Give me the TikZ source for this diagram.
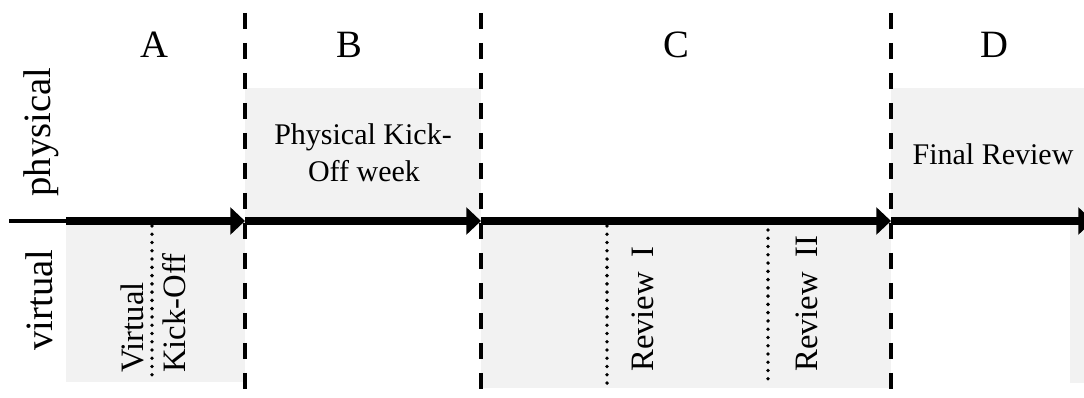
\documentclass[tikz,border=0pt]{standalone}
\usepackage{fontspec}
\setmainfont{Liberation Serif}
\usetikzlibrary{arrows.meta}
\definecolor{boxgray}{RGB}{242,242,242}
\begin{document}
\begin{tikzpicture}[x=0.75pt,y=-0.75pt,
  band/.style={fill=boxgray, draw=none},
  phase/.style={line width=3pt, dash pattern=on 12pt off 10.5pt},
  milestone/.style={line width=2.9pt, line cap=round, dash pattern=on 0pt off 6.2pt},
  flow/.style={line width=6.2pt, -{Triangle[length=11pt,width=20pt]}},
  lead/.style={line width=3pt},
  letter/.style={font=\fontsize{29}{34}\selectfont, anchor=base, inner sep=0pt},
  side/.style={font=\fontsize{29}{34}\selectfont, anchor=base, rotate=90, inner sep=0pt},
  vlabel/.style={font=\fontsize{24.5}{29}\selectfont, anchor=base west, rotate=90, inner sep=0pt},
  hlabel/.style={font=\fontsize{22.5}{28}\selectfont, anchor=base, inner sep=0pt},
  flabel/.style={font=\fontsize{22.5}{28}\selectfont, anchor=base, inner sep=0pt}]
\useasboundingbox (0,0) rectangle (1084,398);
\clip (0,0) rectangle (1084,398);
% shaded bands
\fill[band] (66,221) rectangle (245,382);
\fill[band] (245,88) rectangle (481,221);
\fill[band] (481,221) rectangle (891,388);
\fill[band] (891,88) rectangle (1084,221);
\fill[band] (1070,221) rectangle (1084,383);
% axis coordinates
\coordinate (s0) at (9,221);
\coordinate (s1) at (66,221);
\coordinate (t1) at (245,221);
\coordinate (t2) at (481,221);
\coordinate (t3) at (891,221);
\coordinate (t4) at (1093,221);
% phase separators
\coordinate (d1a) at (245,13); \coordinate (d1b) at (245,400);
\coordinate (d2a) at (481,13); \coordinate (d2b) at (481,400);
\coordinate (d3a) at (891,13); \coordinate (d3b) at (891,400);
\draw[phase] (d1a) -- (d1b);
\draw[phase] (d2a) -- (d2b);
\draw[phase] (d3a) -- (d3b);
% milestones
\coordinate (m1a) at (152,226); \coordinate (m1b) at (152,380);
\coordinate (m2a) at (607,226); \coordinate (m2b) at (607,386);
\coordinate (m3a) at (768,230); \coordinate (m3b) at (768,383);
\draw[milestone] (m1a) -- (m1b);
\draw[milestone] (m2a) -- (m2b);
\draw[milestone] (m3a) -- (m3b);
% time axis
\draw[lead] (s0) -- (s1);
\draw[flow] (s1) -- (t1);
\draw[flow] (t1) -- (t2);
\draw[flow] (t2) -- (t3);
\draw[flow] (t3) -- (t4);
% phase letters
\node[letter] (lA) at (154,58) {A};
\node[letter] (lB) at (349,58) {B};
\node[letter] (lC) at (676,58) {C};
\node[letter] (lD) at (994,58) {D};
% side labels
\node[side] (phys) at (50,132) {physical};
\node[side] (virt) at (52,300) {virtual};
% event labels
\node[vlabel] (virtual) at (143,373) {Virtual};
\node[vlabel] (kickoff) at (185,373) {Kick-Off};
\node[vlabel] (rev1) at (653,372) {Review\hspace{0.2em} I};
\node[vlabel] (rev2) at (817,372) {Review\hspace{0.2em} II};
\node[hlabel] (pk1) at (363,145) {Physical Kick-};
\node[hlabel] (pk2) at (364,182) {Off week};
\node[flabel] (final) at (993,165) {Final Review};
\end{tikzpicture}
\end{document}
